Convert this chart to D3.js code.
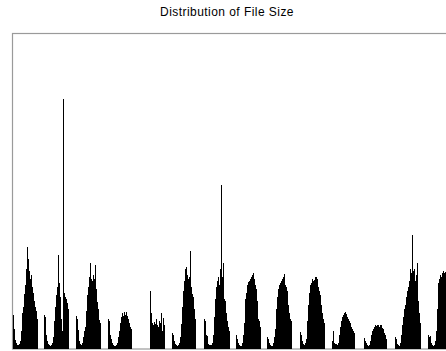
<!DOCTYPE html>
<html>
<head>
<meta charset="utf-8">
<script src="https://cdn.jsdelivr.net/npm/d3@7"></script>
<style>
  html, body { margin: 0; padding: 0; background: #fff; }
  svg { display: block; }
</style>
</head>
<body>
<figure id="file-size" style="margin:0"></figure>
<script>
// chart title
const title = "Distribution of File Size";

// bin counts, one per bin, left to right
const counts = [
  34,20,9,6,4,4,5,8,18,36,42,55,64,80,102,90,78,70,74,62,56,48,42,38,30,
  0,0,0,0,0,0,
  34,32,14,8,5,4,3,4,6,12,28,42,54,62,94,66,52,30,18,250,56,52,50,46,40,
  0,0,0,0,0,0,0,
  33,30,19,8,5,4,6,12,18,22,38,54,62,72,86,70,68,74,70,84,60,47,40,29,26,
  0,0,0,0,0,0,0,
  30,28,14,10,6,4,3,3,4,6,12,18,26,32,36,33,37,34,37,33,30,26,22,20,
  0,0,0,0,0,0,0,0,0,0,0,0,0,0,0,0,0,0,
  58,36,26,24,27,25,30,24,22,28,26,36,18,31,24,
  0,0,0,0,0,0,0,
  16,14,8,5,4,3,4,6,12,25,42,58,68,80,82,74,70,72,98,62,55,52,40,30,
  0,0,0,0,0,0,0,0,
  30,28,14,13,5,4,4,4,6,14,32,50,62,68,72,64,80,164,72,86,50,48,36,28,22,18,
  0,0,0,0,0,0,
  14,10,6,4,3,3,6,14,26,50,56,64,67,68,70,72,74,76,70,64,60,48,30,28,22,
  0,0,0,0,0,0,
  12,10,6,4,3,3,6,12,20,40,52,60,64,66,68,70,72,75,64,62,58,44,36,30,28,
  0,0,0,0,0,0,0,0,
  17,14,8,5,4,6,10,28,44,56,64,66,70,68,69,72,72,70,62,58,54,44,36,30,26,
  0,0,0,0,0,0,0,
  8,18,6,5,5,4,6,14,22,28,32,34,36,37,35,32,30,28,26,22,20,18,16,
  0,0,0,0,0,0,0,0,0,
  11,8,6,4,3,4,8,14,18,20,22,24,23,24,24,22,24,24,21,20,16,14,10,
  0,0,0,0,0,0,0,0,
  12,10,5,4,3,6,14,24,32,40,44,52,58,62,68,80,76,114,78,80,68,74,86,48,36,26,
  0,0,0,0,0,0,0,
  14,12,13,6,4,3,4,8,18,40,66,70,74,72,76,78,76,77
];

const yMax = 316;

const width = 446;
const height = 351;
const margin = { top: 33, right: -30, bottom: 2, left: 12 };

const svg = d3.select("figure#file-size")
  .append("svg")
  .attr("width", width)
  .attr("height", height);

const x = d3.scaleBand()
  .domain(d3.range(counts.length))
  .range([margin.left + 1, margin.left + 1 + counts.length])
  .padding(0);

const y = d3.scaleLinear()
  .domain([0, yMax])
  .range([height - margin.bottom, margin.top]);

svg.append("text")
  .attr("x", 227)
  .attr("y", 16)
  .attr("text-anchor", "middle")
  .attr("font-family", "Liberation Sans, Arial, sans-serif")
  .attr("font-size", 12)
  .attr("letter-spacing", 0.45)
  .attr("fill", "#000")
  .text(title);

// frame (right edge runs past the window)
svg.append("rect")
  .attr("x", margin.left + 0.5)
  .attr("y", margin.top + 0.5)
  .attr("width", width - margin.left - margin.right)
  .attr("height", height - margin.top - margin.bottom - 0.5)
  .attr("fill", "none")
  .attr("stroke", "#9a9a9a")
  .attr("stroke-width", 1.2);

svg.append("g")
  .selectAll("rect")
  .data(counts)
  .join("rect")
  .attr("x", (d, i) => x(i))
  .attr("y", d => y(d))
  .attr("width", x.bandwidth())
  .attr("height", d => y(0) - y(d))
  .attr("fill", "#000");
</script>
</body>
</html>
